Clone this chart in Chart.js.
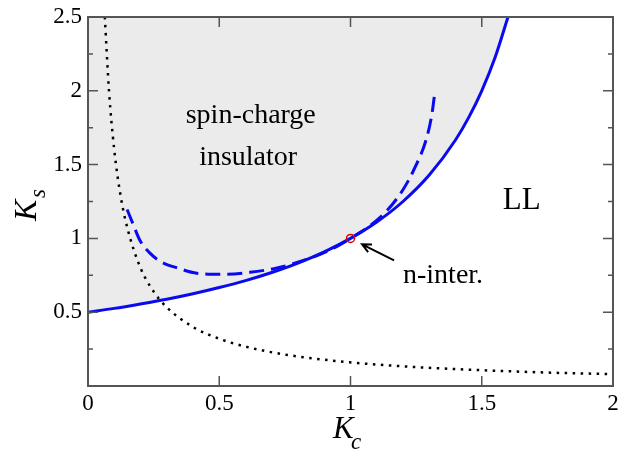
<!DOCTYPE html>
<html>
<head>
<meta charset="utf-8">
<script src="https://cdn.jsdelivr.net/npm/chart.js@4"></script>
<style>
  html, body { margin: 0; padding: 0; background: #fff; }
  #wrap { width: 619px; height: 453px; }
</style>
</head>
<body>
<div id="wrap"><canvas id="chartFase"></canvas></div>
<script>
// valores
const kcSolida = [0, 0.1, 0.2, 0.3, 0.4, 0.5, 0.6, 0.7, 0.8, 0.9, 1.0, 1.1, 1.2, 1.3, 1.4, 1.45, 1.5, 1.55, 1.6];
const ksSolida = [0.5, 0.526, 0.556, 0.588, 0.625, 0.667, 0.714, 0.769, 0.833, 0.909, 1.0, 1.111, 1.25, 1.429, 1.667, 1.818, 2.0, 2.222, 2.5];

const kcPunteada = [0.064, 0.08, 0.1, 0.125, 0.15, 0.2, 0.25, 0.3, 0.4, 0.5, 0.6, 0.75, 1.0, 1.25, 1.5, 1.75, 2.0];
const ksPunteada = [2.5, 2.0, 1.6, 1.28, 1.07, 0.8, 0.64, 0.533, 0.4, 0.32, 0.267, 0.213, 0.16, 0.128, 0.107, 0.091, 0.08];

const kcGuiones = [0.149, 0.171, 0.198, 0.236, 0.28, 0.34, 0.415, 0.515, 0.617, 0.72, 0.82, 0.92, 1.0, 1.07, 1.14, 1.2, 1.24, 1.29, 1.31, 1.322];
const ksGuiones = [1.196, 1.10, 0.986, 0.90, 0.84, 0.80, 0.764, 0.757, 0.77, 0.80, 0.85, 0.92, 1.0, 1.08, 1.19, 1.33, 1.46, 1.68, 1.84, 2.0];

const puntoNI = [{ x: 1, y: 1 }];

const ticksX = [0, 0.5, 1, 1.5, 2];
const ticksY = [0, 0.5, 1, 1.5, 2, 2.5];
const menoresY = [0.25, 0.75, 1.25, 1.75, 2.25];

const aPuntos = (xs, ys) => xs.map((x, i) => ({ x: x, y: ys[i] }));

const fuente = '"Liberation Serif", "Times New Roman", serif';
const azul = '#0a0af0';
const marco = '#555';

const marcoYTextos = {
    id: 'marcoYTextos',
    afterDraw(chart) {
        const ctx = chart.ctx;
        const a = chart.chartArea;
        const sx = chart.scales.x;
        const sy = chart.scales.y;
        ctx.save();
        ctx.strokeStyle = marco;
        ctx.lineWidth = 2;
        ctx.strokeRect(a.left, a.top, a.right - a.left, a.bottom - a.top);

        ctx.lineWidth = 1.5;
        ctx.beginPath();
        ticksX.slice(1, -1).forEach(v => {
            const px = sx.getPixelForValue(v);
            ctx.moveTo(px, a.bottom); ctx.lineTo(px, a.bottom - 10);
            ctx.moveTo(px, a.top); ctx.lineTo(px, a.top + 10);
        });
        ticksY.slice(1, -1).forEach(v => {
            const py = sy.getPixelForValue(v);
            ctx.moveTo(a.left, py); ctx.lineTo(a.left + 10, py);
            ctx.moveTo(a.right, py); ctx.lineTo(a.right - 10, py);
        });
        menoresY.forEach(v => {
            const py = sy.getPixelForValue(v);
            ctx.moveTo(a.left, py); ctx.lineTo(a.left + 5, py);
            ctx.moveTo(a.right, py); ctx.lineTo(a.right - 5, py);
        });
        ctx.stroke();

        // flecha hacia el punto no interactuante
        const x0 = sx.getPixelForValue(1.166), y0 = sy.getPixelForValue(0.851);
        const x1 = sx.getPixelForValue(1.044), y1 = sy.getPixelForValue(0.96);
        const ang = Math.atan2(y1 - y0, x1 - x0);
        ctx.strokeStyle = '#000';
        ctx.lineWidth = 2;
        ctx.beginPath();
        ctx.moveTo(x0, y0); ctx.lineTo(x1, y1);
        ctx.moveTo(x1 - 10 * Math.cos(ang - 0.45), y1 - 10 * Math.sin(ang - 0.45));
        ctx.lineTo(x1, y1);
        ctx.lineTo(x1 - 10 * Math.cos(ang + 0.45), y1 - 10 * Math.sin(ang + 0.45));
        ctx.stroke();

        ctx.fillStyle = '#000';
        ctx.font = '28px ' + fuente;
        ctx.textAlign = 'center';
        ctx.textBaseline = 'alphabetic';
        ctx.fillText('spin-charge', sx.getPixelForValue(0.62), sy.getPixelForValue(1.78));
        ctx.fillText('insulator', sx.getPixelForValue(0.61), sy.getPixelForValue(1.5));
        ctx.textAlign = 'left';
        ctx.fillText('n-inter.', sx.getPixelForValue(1.2), sy.getPixelForValue(0.7));
        ctx.font = '31px ' + fuente;
        ctx.fillText('LL', sx.getPixelForValue(1.58), sy.getPixelForValue(1.2));

        // titulos de ejes
        ctx.font = 'italic 31px ' + fuente;
        ctx.fillText('K', 333, 438);
        ctx.font = 'italic 23px ' + fuente;
        ctx.fillText('c', 351, 449);

        ctx.translate(36, 221);
        ctx.rotate(-Math.PI / 2);
        ctx.font = 'italic 32px ' + fuente;
        ctx.fillText('K', 0, 0);
        ctx.font = 'italic 23px ' + fuente;
        ctx.fillText('s', 23, 9);
        ctx.restore();
    }
};

const chartFase = new Chart(document.getElementById('chartFase'), {
    type: 'scatter',
    data: {
        datasets: [
            {
                data: puntoNI,
                pointRadius: 4,
                pointBorderWidth: 1.5,
                pointBorderColor: '#e00000',
                pointBackgroundColor: 'rgba(0,0,0,0)',
                showLine: false
            },
            {
                data: aPuntos(kcGuiones, ksGuiones),
                showLine: true,
                borderColor: azul,
                borderWidth: 3,
                borderDash: [15, 7],
                pointRadius: 0,
                cubicInterpolationMode: 'monotone'
            },
            {
                data: aPuntos(kcSolida, ksSolida),
                showLine: true,
                borderColor: azul,
                borderWidth: 3,
                pointRadius: 0,
                cubicInterpolationMode: 'monotone',
                fill: 'end',
                backgroundColor: '#ebebeb'
            },
            {
                data: aPuntos(kcPunteada, ksPunteada),
                showLine: true,
                borderColor: '#000',
                borderWidth: 2.5,
                borderDash: [2.5, 5.5],
                pointRadius: 0,
                cubicInterpolationMode: 'monotone'
            }
        ]
    },
    options: {
        responsive: true,
        maintainAspectRatio: false,
        animation: false,
        layout: { padding: { top: 17, right: 6, left: 0, bottom: 0 } },
        plugins: {
            legend: { display: false },
            tooltip: { enabled: false },
            filler: { drawTime: 'beforeDatasetsDraw' }
        },
        scales: {
            x: {
                type: 'linear',
                min: 0,
                max: 2,
                afterBuildTicks: s => { s.ticks = ticksX.map(v => ({ value: v })); },
                afterFit: s => { s.height = 67; s.paddingLeft = 0; s.paddingRight = 0; },
                grid: { display: false, drawTicks: false },
                border: { display: false },
                ticks: {
                    color: '#000',
                    padding: 4,
                    font: { family: fuente, size: 23 },
                    maxRotation: 0,
                    callback: v => String(v)
                }
            },
            y: {
                type: 'linear',
                min: 0,
                max: 2.5,
                afterBuildTicks: s => { s.ticks = ticksY.map(v => ({ value: v })); },
                afterFit: s => { s.width = 88; s.paddingTop = 0; s.paddingBottom = 0; },
                grid: { display: false, drawTicks: false },
                border: { display: false },
                ticks: {
                    color: '#000',
                    padding: 6,
                    font: { family: fuente, size: 23 },
                    callback: v => v === 0 ? '' : String(v)
                }
            }
        }
    },
    plugins: [marcoYTextos]
});
</script>
</body>
</html>
